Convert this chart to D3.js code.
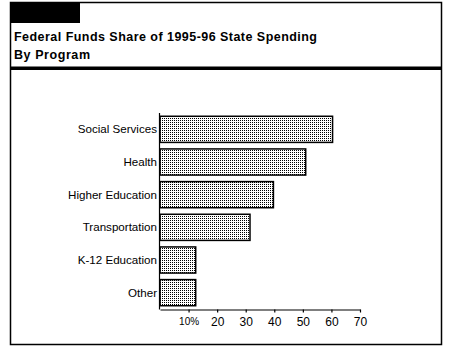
<!DOCTYPE html>
<html>
<head>
<meta charset="utf-8">
<script src="https://cdn.jsdelivr.net/npm/d3@7"></script>
<style>
  body { margin: 0; background: #fff; }
  svg { display: block; }
</style>
</head>
<body>
<div class="chart"></div>
<script>
// federal funds share chart
var width = 451;
var height = 350;

var programs = ['Social Services', 'Health', 'Higher Education', 'Transportation', 'K-12 Education', 'Other'];
var shares = [60.4, 51, 39.7, 31.5, 12.5, 12.5];
var ticks = [10, 20, 30, 40, 50, 60, 70];
var titleLines = ['Federal Funds Share of 1995-96 State Spending', 'By Program'];

var svg = d3.select('.chart').append('svg')
  .attr('width', width)
  .attr('height', height)
  .attr('font-family', "'Liberation Sans', Arial, sans-serif");

// dotted fill like the old print
var pat = svg.append('defs').append('pattern')
  .attr('id', 'dots')
  .attr('patternUnits', 'userSpaceOnUse')
  .attr('width', 2)
  .attr('height', 2);
pat.append('rect').attr('width', 2).attr('height', 2).attr('fill', '#fff');
pat.append('rect').attr('width', 1).attr('height', 1).attr('fill', '#000');

// frame
svg.append('rect')
  .attr('x', 10.5).attr('y', 2.5)
  .attr('width', 431).attr('height', 342)
  .attr('fill', 'none')
  .attr('stroke', '#000')
  .attr('stroke-width', 1.5);

svg.append('rect')
  .attr('x', 10).attr('y', 2)
  .attr('width', 70).attr('height', 21)
  .attr('fill', '#000');

svg.append('rect')
  .attr('x', 10).attr('y', 66.5)
  .attr('width', 432).attr('height', 3.5)
  .attr('fill', '#000');

svg.selectAll('.title')
  .data(titleLines)
  .enter().append('text')
  .attr('class', 'title')
  .attr('x', 14)
  .attr('y', (d, i) => 41 + i * 18)
  .attr('textLength', (d, i) => i == 0 ? 303 : 76)
  .attr('lengthAdjust', 'spacing')
  .style('font-size', '12.5px')
  .style('font-weight', 'bold')
  .text(d => d);

var x = d3.scaleLinear().domain([0, 70]).range([160, 360]);
var y = d3.scaleBand().domain(programs).range([113, 309]).paddingInner(0.2).paddingOuter(0.1);

svg.selectAll('.bar')
  .data(programs)
  .enter().append('rect')
  .attr('class', 'bar')
  .attr('x', x(0))
  .attr('y', d => y(d))
  .attr('width', (d, i) => x(shares[i]) - x(0))
  .attr('height', y.bandwidth())
  .attr('fill', 'url(#dots)')
  .attr('stroke', '#000')
  .attr('stroke-width', 1.5);

// category labels
svg.selectAll('.lbl')
  .data(programs)
  .enter().append('text')
  .attr('class', 'lbl')
  .attr('x', 157)
  .attr('y', d => y(d) + y.bandwidth() / 2)
  .attr('dy', '0.35em')
  .attr('text-anchor', 'end')
  .style('font-size', '11.6px')
  .text(d => d);

// axes
svg.append('line')
  .attr('x1', 159.5).attr('x2', 159.5)
  .attr('y1', 113).attr('y2', 309.5)
  .attr('stroke', '#000').attr('stroke-width', 1.2);

var xAxis = svg.append('g')
  .attr('transform', 'translate(0,309.5)')
  .call(d3.axisBottom(x).tickValues(ticks).tickSize(3).tickSizeOuter(0)
    .tickFormat(d => d == 10 ? '10%' : d));
xAxis.select('.domain').attr('stroke-width', 1.2);
xAxis.selectAll('.tick line').attr('stroke-width', 1.2);
xAxis.selectAll('text')
  .attr('y', 8)
  .style('font-size', d => d == 10 ? '10px' : '12px')
  .attr('font-family', "'Liberation Sans', Arial, sans-serif")
  .attr('fill', '#000');
</script>
</body>
</html>
